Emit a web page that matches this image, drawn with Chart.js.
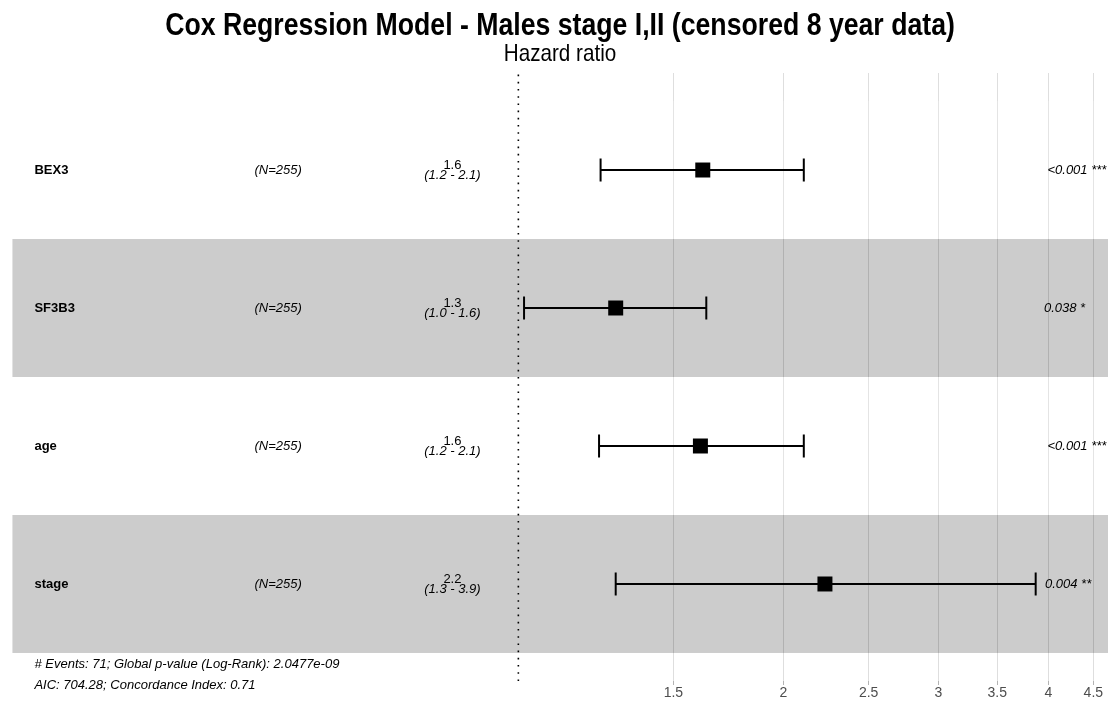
<!DOCTYPE html>
<html><head><meta charset="utf-8">
<script src="https://cdn.jsdelivr.net/npm/chart.js@4"></script>
<style>html,body{margin:0;padding:0;background:#fff;} #wrap{width:1108px;height:704px;position:relative;}</style>
</head><body><div id="wrap"><canvas id="c"></canvas></div>
<script>
// ---- data ----
const variables = ['BEX3', 'SF3B3', 'age', 'stage'];
const nLabels = ['(N=255)', '(N=255)', '(N=255)', '(N=255)'];
const hazardRatio = [1.62, 1.29, 1.61, 2.23];
const ciLow = [1.24, 1.015, 1.235, 1.29];
const ciHigh = [2.11, 1.635, 2.11, 3.87];
const hrLabels = ['1.6', '1.3', '1.6', '2.2'];
const ciLabels = ['(1.2 - 2.1)', '(1.0 - 1.6)', '(1.2 - 2.1)', '(1.3 - 3.9)'];
const pLabels = ['<0.001 ***', '0.038 *', '<0.001 ***', '0.004 **'];
const xTickValues = [1.5, 2, 2.5, 3, 3.5, 4, 4.5];
const footnotes = ['# Events: 71; Global p-value (Log-Rank): 2.0477e-09', 'AIC: 704.28; Concordance Index: 0.71'];
const titleText = 'Cox Regression Model - Males stage I,II (censored 8 year data)';
const subtitleText = 'Hazard ratio';

// ---- layout helpers (ggforest-like) ----
const X_MIN = 0.2577, X_MAX = 4.676;
const Y_MIN = 0.297, Y_MAX = 4.703;
const rowY = variables.map((_, i) => variables.length - i);
const rb = [Math.log(Math.min(...ciLow)), Math.log(Math.max(...ciHigh))];
const span = rb[1] - rb[0];
const rp = [rb[0] - span, rb[1] + 0.15 * span];
const wid = rp[1] - rp[0];
const colVar = Math.exp(rp[0] + 0.02 * wid);
const colN = Math.exp(rp[0] + 0.22 * wid);
const colCI = Math.exp(rp[0] + 0.40 * wid);
const colP = Math.exp(rb[1]);
const bandStart = Math.exp(rp[0]);

const SANS = "'Liberation Sans', Arial, sans-serif";
const NARROW_SCALE = 0.86;

const datasets = [];
datasets.push({
  data: [{x: 1, y: Y_MIN}, {x: 1, y: Y_MAX}],
  showLine: true, borderColor: '#000', borderWidth: 1.6, borderDash: [1.6, 5.6],
  pointRadius: 0, order: 4
});
variables.forEach((v, i) => {
  datasets.push({
    data: [{x: ciLow[i], y: rowY[i]}, {x: ciHigh[i], y: rowY[i]}],
    showLine: true, borderColor: '#000', borderWidth: 2, pointRadius: 0, order: 3
  });
});
datasets.push({
  data: variables.flatMap((v, i) => [{x: ciLow[i], y: rowY[i]}, {x: ciHigh[i], y: rowY[i]}]),
  showLine: false, pointStyle: 'line', pointRotation: 90, pointRadius: 11.5,
  pointBorderWidth: 2, pointBorderColor: '#000', pointBackgroundColor: '#000', order: 2
});
datasets.push({
  data: variables.map((v, i) => ({x: hazardRatio[i], y: rowY[i]})),
  showLine: false, pointStyle: 'rect', pointRadius: 10.6,
  pointBorderWidth: 0, pointBackgroundColor: '#000', pointBorderColor: '#000', order: 1
});

function narrowText(ctx, text, x, y, font) {
  ctx.save();
  ctx.font = font;
  ctx.translate(x, y);
  ctx.scale(NARROW_SCALE, 1);
  ctx.fillText(text, 0, 0);
  ctx.restore();
}

const decor = {
  id: 'decor',
  beforeDatasetsDraw(chart) {
    const {ctx, chartArea} = chart;
    const xs = chart.scales.x, ys = chart.scales.y;
    ctx.save();
    rowY.forEach((y, i) => {
      const top = ys.getPixelForValue(y + 0.5), bot = ys.getPixelForValue(y - 0.5);
      const left = xs.getPixelForValue(bandStart);
      ctx.fillStyle = (i % 2 === 1) ? 'rgba(0,0,0,0.2)' : 'rgba(255,255,255,0.2)';
      ctx.fillRect(left, top, chartArea.right - left, bot - top);
    });
    ctx.restore();
  },
  afterDatasetsDraw(chart) {
    const {ctx} = chart;
    const xs = chart.scales.x, ys = chart.scales.y;
    ctx.save();
    ctx.fillStyle = '#000';
    ctx.textBaseline = 'middle';
    rowY.forEach((y, i) => {
      const py = ys.getPixelForValue(y);
      ctx.textAlign = 'left';
      ctx.font = 'bold 13px ' + SANS;
      ctx.fillText(variables[i], xs.getPixelForValue(colVar), py);
      ctx.font = 'italic 13px ' + SANS;
      ctx.fillText(nLabels[i], xs.getPixelForValue(colN), py);
      ctx.textAlign = 'center';
      ctx.font = '13px ' + SANS;
      ctx.fillText(hrLabels[i], xs.getPixelForValue(colCI), py - 5);
      ctx.font = 'italic 13px ' + SANS;
      ctx.fillText(ciLabels[i], xs.getPixelForValue(colCI), py + 5.5);
      ctx.textAlign = 'left';
      const w = ctx.measureText(pLabels[i]).width;
      ctx.fillText(pLabels[i], xs.getPixelForValue(colP) + 0.2 * w, py);
    });
    const base = ys.getPixelForValue(0.5);
    ctx.font = 'italic 13px ' + SANS;
    ctx.textAlign = 'left';
    footnotes.forEach((t, k) => {
      ctx.fillText(t, xs.getPixelForValue(colVar), base + 11.5 + 21 * k);
    });
    ctx.restore();
  },
  afterDraw(chart) {
    const {ctx, chartArea} = chart;
    const cx = (chartArea.left + chartArea.right) / 2 + 6;
    ctx.save();
    ctx.fillStyle = '#000';
    ctx.textAlign = 'center';
    ctx.textBaseline = 'middle';
    narrowText(ctx, titleText, cx, 26, 'bold 31px ' + SANS);
    narrowText(ctx, subtitleText, cx, 54.5, '24px ' + SANS);
    ctx.restore();
  }
};

new Chart(document.getElementById('c'), {
  type: 'scatter',
  data: {datasets},
  plugins: [decor],
  options: {
    responsive: true, maintainAspectRatio: false, animation: false,
    layout: {padding: {top: 73, left: 0, right: 0, bottom: 0}, autoPadding: false},
    plugins: {legend: {display: false}, tooltip: {enabled: false}, title: {display: false}},
    scales: {
      x: {
        type: 'logarithmic', min: X_MIN, max: X_MAX,
        afterBuildTicks: s => { s.ticks = xTickValues.map(v => ({value: v})); },
        afterFit: s => { s.height = 23; },
        ticks: {callback: v => String(v), color: '#4D4D4D', autoSkip: false, maxRotation: 0,
          font: {family: SANS, size: 14}, padding: 0},
        grid: {color: '#DEDEDE', lineWidth: 1, drawTicks: true, tickLength: 4, tickColor: '#B3B3B3'},
        border: {display: false}
      },
      y: {type: 'linear', min: Y_MIN, max: Y_MAX, display: false}
    }
  }
});
</script>
</body></html>
